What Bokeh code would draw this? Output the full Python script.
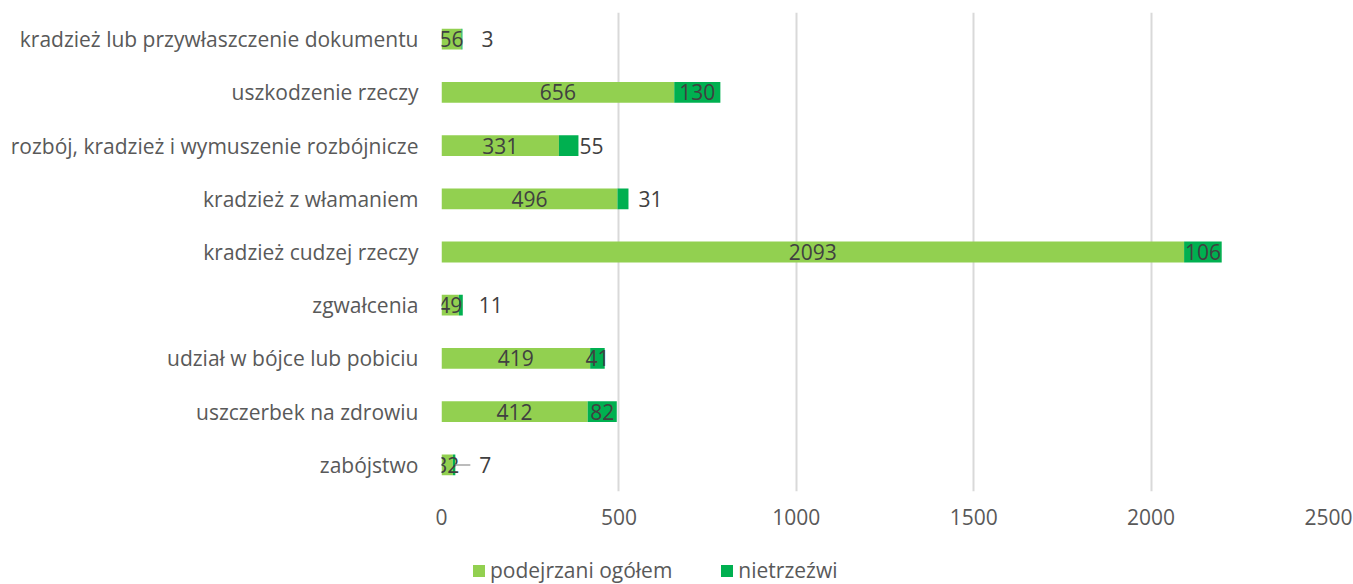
from bokeh.plotting import figure
from bokeh.layouts import column
from bokeh.models import (ColumnDataSource, FactorRange, Range1d, FixedTicker,
                          Legend, LegendItem)
from bokeh.core.properties import value
from bokeh.embed import file_html
from bokeh.resources import INLINE

# ---- data (top to bottom as in the picture) ----
categories = [
    "kradzież lub przywłaszczenie dokumentu",
    "uszkodzenie rzeczy",
    "rozbój, kradzież i wymuszenie rozbójnicze",
    "kradzież z włamaniem",
    "kradzież cudzej rzeczy",
    "zgwałcenia",
    "udział w bójce lub pobiciu",
    "uszczerbek na zdrowiu",
    "zabójstwo",
]
podejrzani_ogolem = [56, 656, 331, 496, 2093, 49, 419, 412, 32]
nietrzezwi = [3, 130, 55, 31, 106, 11, 41, 82, 7]
series_names = ["podejrzani ogółem", "nietrzeźwi"]
x_ticks = [0, 500, 1000, 1500, 2000, 2500]

# ---- style ----
FONT = "Open Sans"
FS = "21px"
LIGHT = "#92D050"
DARK = "#00B050"
GRID = "#D9D9D9"
AXIS_TXT = "#595959"
VAL_TXT = "#404040"
# outside-label offsets (px) for small "nietrzeźwi" segments; None = centred inside
outside_offset_px = [19, None, 1, 10, None, 16, None, None, 24]
leader_rows = [8]

W = 1353
H_MAIN, H_LEG = 546, 38
BL, BR = 441, 25
p = figure(width=W, height=H_MAIN, y_range=FactorRange(factors=categories[::-1]),
           x_range=Range1d(0, 2500), output_backend="svg", toolbar_location=None,
           min_border_left=BL, min_border_right=BR, min_border_top=12,
           min_border_bottom=55)
p.outline_line_color = None
p.background_fill_color = "white"
p.border_fill_color = "white"

totals = [a + b for a, b in zip(podejrzani_ogolem, nietrzezwi)]
src = ColumnDataSource(dict(cat=categories, a=podejrzani_ogolem, b=nietrzezwi,
                            tot=totals, zero=[0] * len(categories)))
BAR_H = 0.39
p.hbar(y="cat", left="zero", right="a", height=BAR_H, source=src,
       fill_color=LIGHT, line_color=None)
p.hbar(y="cat", left="a", right="tot", height=BAR_H, source=src,
       fill_color=DARK, line_color=None)

# value labels: first series centred
lab_a = ColumnDataSource(dict(x=[v / 2 for v in podejrzani_ogolem], y=categories,
                              t=[str(v) for v in podejrzani_ogolem]))
p.text(x="x", y="y", text="t", source=lab_a, text_align="center",
       text_baseline="middle", text_font=value(FONT), text_font_size=FS,
       text_color=VAL_TXT)

# second series
ix, iy, it = [], [], []
ox, oy, ot, ooff = [], [], [], []
for i, c in enumerate(categories):
    if outside_offset_px[i] is None:
        ix.append(podejrzani_ogolem[i] + nietrzezwi[i] / 2); iy.append(c); it.append(str(nietrzezwi[i]))
    else:
        ox.append(totals[i]); oy.append(c); ot.append(str(nietrzezwi[i])); ooff.append(outside_offset_px[i])
p.text(x="x", y="y", text="t", source=ColumnDataSource(dict(x=ix, y=iy, t=it)),
       text_align="center", text_baseline="middle", text_font=value(FONT),
       text_font_size=FS, text_color=VAL_TXT)
p.text(x="x", y="y", text="t", x_offset="off",
       source=ColumnDataSource(dict(x=ox, y=oy, t=ot, off=ooff)),
       text_align="left", text_baseline="middle", text_font=value(FONT),
       text_font_size=FS, text_color=VAL_TXT)

# leader line(s)
px_to_data = 2500 / (W - BL - BR)
for i in leader_rows:
    p.segment(x0=[totals[i]], y0=[categories[i]],
              x1=[totals[i] + 15 * px_to_data], y1=[categories[i]],
              line_color="#A6A6A6", line_width=1.5)

# axes
p.xaxis.ticker = FixedTicker(ticks=x_ticks)
p.xaxis.axis_line_color = None
p.xaxis.major_tick_line_color = None
p.xaxis.minor_tick_line_color = None
p.xaxis.major_tick_out = 0
p.xaxis.major_label_standoff = 17
p.xaxis.major_label_text_font = FONT
p.xaxis.major_label_text_font_size = FS
p.xaxis.major_label_text_color = AXIS_TXT

p.yaxis.axis_line_color = None
p.yaxis.major_tick_line_color = None
p.yaxis.major_tick_out = 0
p.yaxis.major_label_standoff = 23
p.yaxis.major_label_text_font = FONT
p.yaxis.major_label_text_font_size = FS
p.yaxis.major_label_text_color = AXIS_TXT

p.ygrid.grid_line_color = None
p.xgrid.grid_line_color = GRID
p.xgrid.grid_line_width = 2

# ---- legend strip (separate small figure under the chart) ----
lg = figure(width=W, height=H_LEG, x_range=Range1d(0, 1), y_range=Range1d(0, 1),
            output_backend="svg", toolbar_location=None,
            min_border=0, min_border_left=0, min_border_right=0,
            min_border_top=0, min_border_bottom=0)
lg.axis.visible = False
lg.grid.visible = False
lg.outline_line_color = None
# legend-only renderers: their single bar lies outside the visible range
hidden = ColumnDataSource(dict(y=[-10], l=[-10], r=[-9]))
g1 = lg.hbar(y="y", left="l", right="r", height=1, source=hidden,
             fill_color=LIGHT, line_color=None)
g2 = lg.hbar(y="y", left="l", right="r", height=1, source=hidden,
             fill_color=DARK, line_color=None)
legend = Legend(items=[LegendItem(label=series_names[0], renderers=[g1]),
                       LegendItem(label=series_names[1], renderers=[g2])],
                orientation="horizontal", location=(30, 0),
                border_line_color=None, background_fill_alpha=0,
                label_text_font=FONT, label_text_font_size=FS,
                label_text_color=AXIS_TXT, glyph_width=15, glyph_height=15,
                label_standoff=4, spacing=47, padding=0, margin=0)
lg.add_layout(legend)

layout = column(p, lg, spacing=0)
open("out.html", "w").write(file_html(layout, INLINE))
